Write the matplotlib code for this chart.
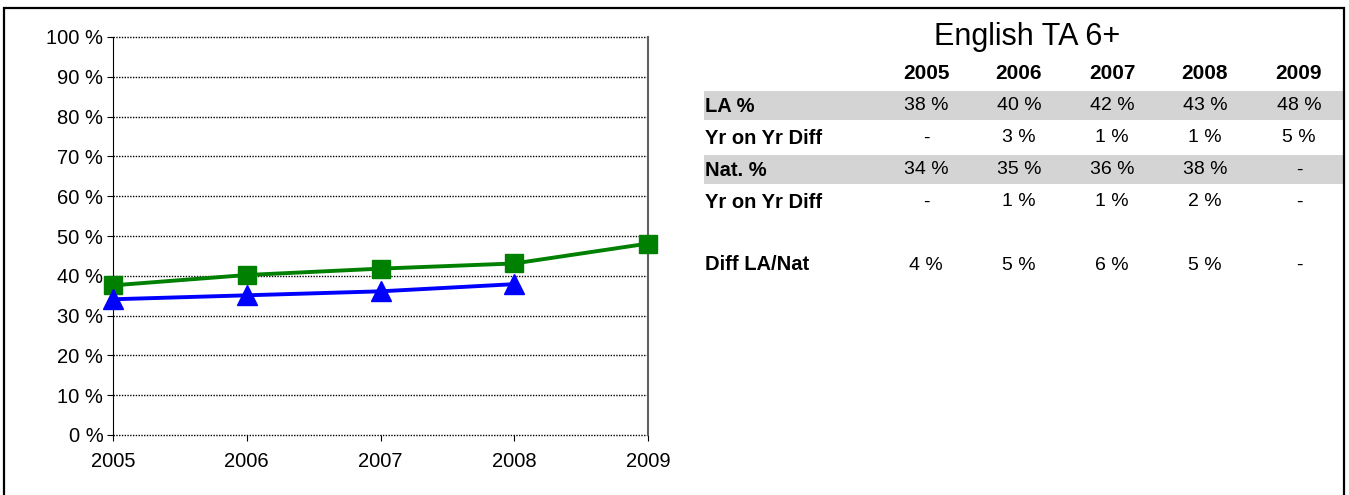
import matplotlib.pyplot as plt
from matplotlib.patches import Rectangle

plt.rcParams['font.family'] = ['Liberation Sans', 'DejaVu Sans']

years = [2005, 2006, 2007, 2008, 2009]
la_pct = [37.6, 40.2, 41.8, 43.1, 48.1]
nat_years = [2005, 2006, 2007, 2008]
nat_pct = [34.1, 35.1, 36.1, 37.9]

table_title = "English TA 6+"
row_labels = ["LA %", "Yr on Yr Diff", "Nat. %", "Yr on Yr Diff", "Diff LA/Nat"]
row_values = [
    ["38 %", "40 %", "42 %", "43 %", "48 %"],
    ["-", "3 %", "1 %", "1 %", "5 %"],
    ["34 %", "35 %", "36 %", "38 %", "-"],
    ["-", "1 %", "1 %", "2 %", "-"],
    ["4 %", "5 %", "6 %", "5 %", "-"],
]
shaded_rows = [0, 2]

W, H = 1349, 495
fig = plt.figure(figsize=(W / 100, H / 100), dpi=100)


def fx(px):
    return px / W


def fy(py):
    return 1 - py / H


# outer frame
fig.patches.append(Rectangle((fx(4), fy(500)), fx(1340), fy(8) - fy(500),
                             transform=fig.transFigure, fill=False,
                             edgecolor='black', linewidth=1.6))

# line chart
ax = fig.add_axes([fx(113), fy(435), fx(648) - fx(113), fy(37) - fy(435)])
ax.plot(years, la_pct, color='#008000', linewidth=2.8, marker='s',
        markersize=13.5, zorder=3, clip_on=False)
ax.plot(nat_years, nat_pct, color='#0000ff', linewidth=2.8, marker='^',
        markersize=14.5, zorder=3, clip_on=False)

ax.set_xlim(2005, 2009)
ax.set_ylim(0, 100)
ax.set_xticks(years)
ax.set_xticklabels([str(y) for y in years])
ax.set_yticks(range(0, 101, 10))
ax.set_yticklabels([f"{v} %" for v in range(0, 101, 10)])
ax.tick_params(axis='both', labelsize=14.5, length=4, width=0.8, direction='out')
ax.tick_params(axis='x', pad=8)
ax.tick_params(axis='y', pad=3)
ax.yaxis.grid(True, linestyle=(0, (1, 1)), color='black', linewidth=1.0)
for gl in ax.get_ygridlines():
    gl.set_clip_on(False)
ax.set_axisbelow(True)
for s in ['top', 'bottom']:
    ax.spines[s].set_visible(False)
ax.spines['left'].set_linewidth(0.8)
ax.spines['right'].set_color('#606060')
ax.spines['right'].set_linewidth(1.5)

# table on the right
fig.text(fx(1027), fy(37), table_title, ha='center', va='center', fontsize=22)
col_x = [926, 1019, 1112, 1205, 1299]
for x, y in zip(col_x, years):
    fig.text(fx(x), fy(73), str(y), ha='center', va='center', fontsize=15,
             fontweight='bold')

row_y = [106, 138, 170, 202, 265]
for i, (label, vals, y) in enumerate(zip(row_labels, row_values, row_y)):
    if i in shaded_rows:
        fig.patches.append(Rectangle((fx(704), fy(y + 14)), fx(1344) - fx(704),
                                     fy(y - 15) - fy(y + 14),
                                     transform=fig.transFigure,
                                     facecolor='#d4d4d4', edgecolor='none',
                                     zorder=0))
    fig.text(fx(705), fy(y), label, ha='left', va='center', fontsize=14.5,
             fontweight='bold')
    for x, v in zip(col_x, vals):
        fig.text(fx(x), fy(y), v, ha='center', va='center', fontsize=14)

fig.savefig('out.png', dpi=100)
